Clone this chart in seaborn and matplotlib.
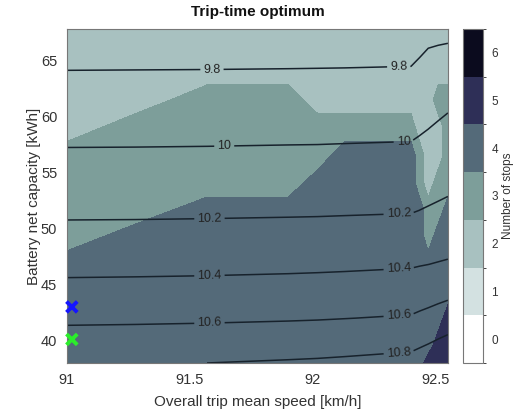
import numpy as np
import pandas as pd
import matplotlib
matplotlib.use('Agg')
import matplotlib.pyplot as plt
from matplotlib.colors import ListedColormap, BoundaryNorm
from matplotlib.cm import ScalarMappable
from matplotlib.ticker import FormatStrFormatter
import seaborn as sns

# grid: speed [km/h] (columns), capacity [kWh] (rows)
speed = [91.0, 91.28, 91.57, 91.9, 92.02, 92.13, 92.4, 92.435, 92.47, 92.51, 92.55]
capacity = [38.0, 39.6, 42.0, 44.4, 46.8, 49.2, 51.6, 54.0, 56.5, 59.0, 61.5, 64.1, 66.6, 67.8]

# number of stops at each grid node (rows = capacity, cols = speed)
stops = [
    [4, 4, 4, 4, 4, 4, 4, 4, 5, 5, 5],
    [4, 4, 4, 4, 4, 4, 4, 4, 4, 5, 5],
    [4, 4, 4, 4, 4, 4, 4, 4, 4, 4, 5],
    [4, 4, 4, 4, 4, 4, 4, 4, 4, 4, 4],
    [4, 4, 4, 4, 4, 4, 4, 4, 4, 4, 4],
    [3, 4, 4, 4, 4, 4, 4, 4, 3, 4, 4],
    [3, 3, 4, 4, 4, 4, 4, 4, 3, 3, 4],
    [3, 3, 3, 3, 4, 4, 4, 3, 2, 3, 3],
    [3, 3, 3, 3, 3, 4, 4, 3, 2, 2, 3],
    [2, 3, 3, 3, 3, 3, 3, 2, 2, 2, 3],
    [2, 2, 3, 3, 2, 2, 2, 2, 2, 3, 3],
    [2, 2, 2, 2, 2, 2, 2, 2, 2, 2, 2],
    [2, 2, 2, 2, 2, 2, 2, 2, 2, 2, 2],
    [2, 2, 2, 2, 2, 2, 2, 2, 2, 2, 2],
]

# trip time [h] at each grid node
trip_time = [
    [10.785, 10.791, 10.800, 10.817, 10.824, 10.834, 10.862, 10.884, 10.905, 10.935, 10.965],
    [10.696, 10.701, 10.709, 10.723, 10.730, 10.738, 10.762, 10.784, 10.806, 10.836, 10.866],
    [10.565, 10.569, 10.575, 10.585, 10.590, 10.597, 10.615, 10.633, 10.650, 10.673, 10.695],
    [10.452, 10.455, 10.460, 10.469, 10.473, 10.479, 10.494, 10.507, 10.520, 10.536, 10.552],
    [10.349, 10.352, 10.356, 10.363, 10.367, 10.371, 10.384, 10.392, 10.399, 10.409, 10.419],
    [10.255, 10.257, 10.260, 10.266, 10.268, 10.272, 10.281, 10.291, 10.300, 10.310, 10.320],
    [10.170, 10.171, 10.174, 10.178, 10.180, 10.183, 10.190, 10.201, 10.212, 10.224, 10.236],
    [10.097, 10.098, 10.101, 10.104, 10.106, 10.108, 10.115, 10.128, 10.140, 10.154, 10.167],
    [10.021, 10.022, 10.024, 10.028, 10.029, 10.032, 10.038, 10.052, 10.066, 10.084, 10.101],
    [9.948, 9.949, 9.951, 9.954, 9.955, 9.957, 9.962, 9.979, 9.996, 10.017, 10.038],
    [9.875, 9.876, 9.877, 9.880, 9.881, 9.883, 9.887, 9.906, 9.925, 9.945, 9.965],
    [9.800, 9.801, 9.802, 9.804, 9.805, 9.806, 9.810, 9.831, 9.852, 9.866, 9.880],
    [9.731, 9.732, 9.733, 9.735, 9.736, 9.737, 9.740, 9.763, 9.786, 9.792, 9.797],
    [9.697, 9.698, 9.699, 9.701, 9.702, 9.703, 9.706, 9.729, 9.752, 9.755, 9.757],
]
time_levels = [9.8, 10.0, 10.2, 10.4, 10.6, 10.8]

# highlighted designs
marker_speed = [91.02, 91.02]
marker_capacity = [43.0, 40.1]
marker_names = ['a', 'b']
marker_colors = ['#1515ff', '#2bee2b']

# colours of 0..6 stops
stop_colors = ['#ffffff', '#d3e1e1', '#a8c1c0', '#7d9e9a', '#546a79', '#2e2f57', '#0b0b1e']

sns.set_style('ticks')
plt.rcParams['font.family'] = ['Liberation Sans', 'DejaVu Sans']

cmap = ListedColormap(stop_colors)
bounds = np.arange(-0.5, 7.0, 1.0)
norm = BoundaryNorm(bounds, cmap.N)

fig = plt.figure(figsize=(5.19, 4.12), dpi=100)
ax = fig.add_axes([0.129, 0.119, 0.734, 0.811])
cax = fig.add_axes([0.892, 0.119, 0.0385, 0.811])

ax.contourf(speed, capacity, np.array(stops), levels=bounds, cmap=cmap, norm=norm)
cs = ax.contour(speed, capacity, np.array(trip_time), levels=time_levels,
                colors='#17222c', linewidths=1.1)
label_pos = [(91.59, 64.2), (92.35, 64.4),
             (91.64, 57.3), (92.37, 57.7),
             (91.58, 50.7), (92.35, 51.2),
             (91.58, 45.6), (92.35, 46.4),
             (91.58, 41.4), (92.35, 42.2),
             (92.35, 38.9)]
ax.clabel(cs, fmt='%g', fontsize=9, inline=True, inline_spacing=3, manual=label_pos,
          colors='#222222')

sns.scatterplot(x=marker_speed, y=marker_capacity, hue=marker_names, palette=marker_colors,
                marker='x', s=60, linewidth=2.8, legend=False, ax=ax, zorder=5, clip_on=False)

ax.set_xlim(91.0, 92.55)
ax.set_ylim(38.0, 67.8)
ax.set_xticks([91, 91.5, 92, 92.5])
ax.set_yticks([40, 45, 50, 55, 60, 65])
ax.xaxis.set_major_formatter(FormatStrFormatter('%g'))
ax.tick_params(direction='in', top=True, right=True, length=3.5, width=0.6,
               labelsize=10.5, colors='#333333', pad=7)
for s in ax.spines.values():
    s.set_color('#777777')
    s.set_linewidth(0.8)

ax.set_title('Trip-time optimum', fontsize=11, fontweight='bold', pad=9, color='#111111')
ax.set_xlabel('Overall trip mean speed [km/h]', fontsize=11, color='#333333', labelpad=6)
ax.set_ylabel('Battery net capacity [kWh]', fontsize=11, color='#333333', labelpad=0)

cb = fig.colorbar(ScalarMappable(norm=norm, cmap=cmap), cax=cax, ticks=range(7))
cb.ax.tick_params(direction='in', length=2.5, width=0.6, labelsize=8.5, colors='#333333', pad=6)
cb.outline.set_edgecolor('#777777')
cb.outline.set_linewidth(0.8)
cb.set_label('Number of stops', fontsize=8.5, color='#333333', labelpad=3)

fig.savefig('out.png', dpi=100)
